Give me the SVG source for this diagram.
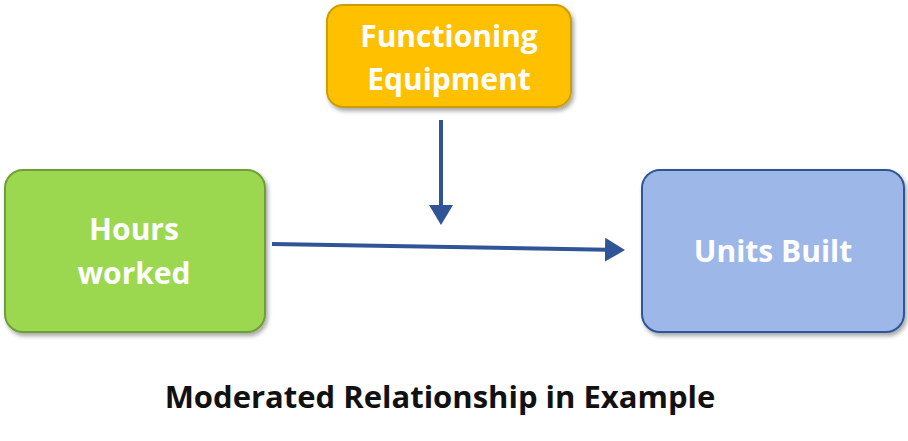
<svg xmlns="http://www.w3.org/2000/svg" width="908" height="441" viewBox="0 0 908 441">
<style>
.lbl{font-family:"Open Sans","Liberation Sans",sans-serif;font-weight:bold;font-size:30px;fill:#fff;text-anchor:middle}
.box{stroke-width:2}
</style>
<defs>
<marker id="ah" markerWidth="6" markerHeight="6" refX="4" refY="3" orient="auto" markerUnits="strokeWidth"><path d="M0,0 L5,3 L0,6 z" fill="#2f5597"/></marker>
<filter id="sh" x="-10%" y="-10%" width="130%" height="130%"><feDropShadow dx="2" dy="3" stdDeviation="2" flood-opacity="0.35"/></filter>
</defs>
<rect width="908" height="441" fill="#fff"/>
<g id="functioning"><rect class="box" x="327" y="5" width="244" height="102" rx="16" fill="#ffc000" stroke="#c9a000" filter="url(#sh)"/>
<text class="lbl" x="449" y="47">Functioning</text><text class="lbl" x="449" y="90">Equipment</text></g>
<g id="hours"><rect class="box" x="5" y="170" width="260" height="162" rx="18" fill="#9bd84f" stroke="#6e9e35" filter="url(#sh)"/>
<text class="lbl" x="134" y="240">Hours</text><text class="lbl" x="134" y="284">worked</text></g>
<g id="units"><rect class="box" x="642" y="170" width="262" height="162" rx="18" fill="#9cb7e8" stroke="#2f5597" filter="url(#sh)"/>
<text class="lbl" x="773" y="262">Units Built</text></g>
<g id="connectors" stroke="#2f5597" stroke-width="4" fill="none">
<line x1="441" y1="120" x2="441" y2="221" marker-end="url(#ah)"/>
<line x1="272" y1="244" x2="621" y2="250" marker-end="url(#ah)"/>
</g>
<text x="440" y="408" font-family="Open Sans,Liberation Sans,sans-serif" font-weight="bold" font-size="31" text-anchor="middle" fill="#111">Moderated Relationship in Example</text>
</svg>
